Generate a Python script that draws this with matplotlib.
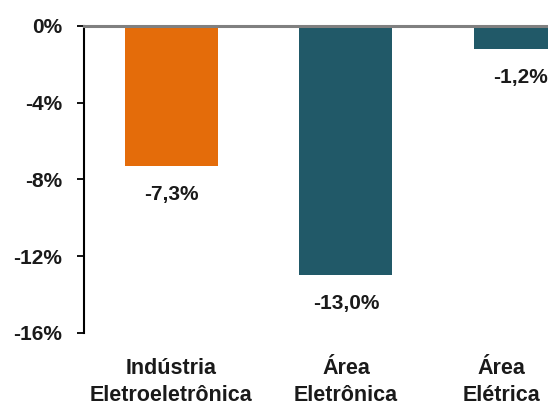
import matplotlib.pyplot as plt
import matplotlib.transforms as mtransforms
import numpy as np

plt.rcParams['font.family'] = ['Liberation Sans', 'DejaVu Sans']

# dados
categorias = ["Indústria\nEletroeletrônica", "Área\nEletrônica", "Área\nElétrica"]
valores = [-7.3, -13.0, -1.2]
rotulos = ["-7,3%", "-13,0%", "-1,2%"]
yticks = [0, -4, -8, -12, -16]
cores = ["#E46C0A", "#215968", "#215968"]

fig = plt.figure(figsize=(5.48, 4.01), dpi=100)
ax = fig.add_axes([0.1533, 0.1696, 0.8467, 0.7656])

x = np.arange(len(valores))
ax.bar(x, valores, width=0.533, color=cores, zorder=2)

# rótulos de valor abaixo das barras
for xi, v, r in zip(x, valores, rotulos):
    ax.annotate(r, (xi, v), xytext=(0, -28), textcoords="offset pixels",
                ha="center", va="center", fontsize=15, fontweight="bold",
                color="#1a1a1a")

ax.axhline(0, color="#808080", lw=2.2, zorder=3, clip_on=False)

ax.set_xlim(-0.501, 2.158)
ax.set_ylim(-16, 0)
ax.set_yticks(yticks)
ax.set_yticklabels([f"{t}%" for t in yticks], fontsize=15, fontweight="bold",
                   color="#1a1a1a")
ax.tick_params(axis="y", length=5, width=1.3, pad=11)

ax.set_xticks(x)
ax.set_xticklabels(categorias, fontsize=15.5, fontweight="bold", color="#1a1a1a",
                   linespacing=1.4)
ax.tick_params(axis="x", length=0, pad=18)
# o último rótulo fica deslocado para a esquerda (recortado no original)
lab = ax.get_xticklabels()[2]
lab.set_transform(lab.get_transform() + mtransforms.ScaledTranslation(-19 / 100, 0, fig.dpi_scale_trans))

for s in ["top", "right", "bottom"]:
    ax.spines[s].set_visible(False)
ax.spines["left"].set_linewidth(1.5)
ax.spines["left"].set_color("black")

fig.savefig("out.png", dpi=100)
